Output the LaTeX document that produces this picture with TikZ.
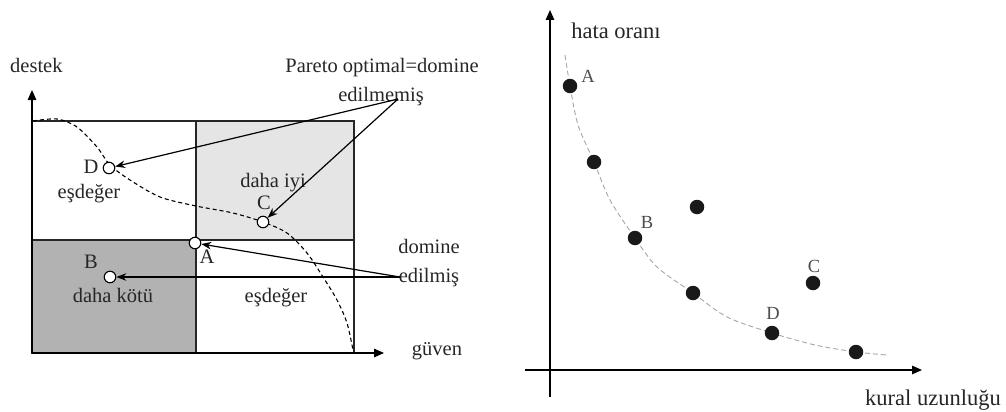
\documentclass[tikz,border=0pt]{standalone}
\usepackage{fontspec}
\setmainfont{Liberation Serif}
\usetikzlibrary{arrows.meta}
\begin{document}
\begin{tikzpicture}[x=1pt,y=-1pt,
  lbl/.style={font=\fontsize{20.5}{22}\selectfont, inner sep=0pt, anchor=base, text=black!85},
  rlbl/.style={font=\fontsize{22.5}{24}\selectfont, inner sep=0pt, anchor=base, text=black!85},
  plbl/.style={font=\fontsize{18.5}{20}\selectfont, inner sep=0pt, anchor=base, text=black!70},
  opt/.style={circle, draw, fill=white, line width=1.1pt, minimum size=11.5pt, inner sep=0pt},
  dot/.style={circle, fill=black!90, minimum size=14.5pt, inner sep=0pt},
  box/.style={draw=black!85, line width=1.6pt},
  axis/.style={line width=1.5pt, -{Triangle[length=10pt,width=8.5pt]}},
  ptr/.style={line width=1.2pt, -{Stealth[length=10pt,width=7.5pt]}},
  front/.style={dashed, dash pattern=on 4pt off 3pt, line width=1.1pt},
  rfront/.style={dash pattern=on 5pt off 3pt, line width=0.9pt, draw=black!35},
]
\useasboundingbox (0,0) rectangle (1006,412);
% ---------- left diagram ----------
\fill[black!10] (196,121) rectangle (354,240);
\fill[black!30] (32,240) rectangle (196,353);
\draw[box] (32,121) rectangle (354,353);
\draw[box] (196,121) -- (196,353);
\draw[box] (32,240) -- (354,240);
\coordinate (o1) at (32,353);
\coordinate (ytip1) at (32,90);
\coordinate (xtip1) at (384,353);
\draw[axis] (o1) -- (ytip1);
\draw[axis] (o1) -- (xtip1);
\draw[front] plot[smooth] coordinates {(33,121) (57,119) (77,127) (97,147) (110,165) (130,180) (160,197) (196,206) (233,213) (263,222) (287,233) (307,253) (323,277) (337,300) (347,323) (353,350)};

\node[lbl, anchor=base west] (destek) at (10,72) {destek};
\node[lbl] (guven) at (437,355) {güven};
\node[lbl] (pareto1) at (382,73) {Pareto optimal=domine};
\node[lbl] (pareto2) at (381,101) {edilmemiş};
\node[lbl] (dom1) at (429,253) {domine};
\node[lbl] (dom2) at (429,282) {edilmiş};
\node[lbl] (iyi) at (273,187) {daha iyi};
\node[lbl] (esd1) at (89,198) {eşdeğer};
\node[lbl] (esd2) at (276,302) {eşdeğer};
\node[lbl] (kotu) at (113,302) {daha kötü};
\node[lbl] (lD) at (91,173) {D};
\node[lbl] (lC) at (264,209) {C};
\node[lbl] (lA) at (207,263) {A};
\node[lbl] (lB) at (91,268) {B};

\node[opt] (D) at (109,168) {};
\node[opt] (C) at (263,222) {};
\node[opt] (A) at (195,243) {};
\node[opt] (B) at (110,277) {};

\coordinate (p1) at (398,99);
\coordinate (p2) at (400,277);
\draw[ptr] (p1) -- (D);
\draw[ptr] (p1) -- (C);
\draw[ptr] (p2) -- (A);
\draw[ptr] (p2) -- (B);

% ---------- right diagram ----------
\coordinate (xs2) at (525,370);
\coordinate (ys2) at (550,397);
\coordinate (ytip2) at (550,10);
\coordinate (xtip2) at (922,370);
\draw[axis] (ys2) -- (ytip2);
\draw[axis] (xs2) -- (xtip2);
\draw[rfront] plot[smooth] coordinates {(565,55) (570,86) (578,125) (594,162) (610,200) (635,238) (657,267) (693,293) (727,317) (772,333) (815,345) (856,352) (887,355)};

\node[rlbl] (hata) at (616,39) {hata oranı};
\node[rlbl] (kural) at (933,405) {kural uzunluğu};

\node[dot] (rA) at (570,86) {};
\node[dot] (r2) at (594,162) {};
\node[dot] (rB) at (635,238) {};
\node[dot] (r4) at (697,207) {};
\node[dot] (r5) at (693,293) {};
\node[dot] (rD) at (772,333) {};
\node[dot] (rC) at (813,283) {};
\node[dot] (r8) at (856,352) {};

\node[plbl] (tA) at (588,82) {A};
\node[plbl] (tB) at (647,228) {B};
\node[plbl] (tC) at (814,272) {C};
\node[plbl] (tD) at (773,319) {D};
\end{tikzpicture}
\end{document}
